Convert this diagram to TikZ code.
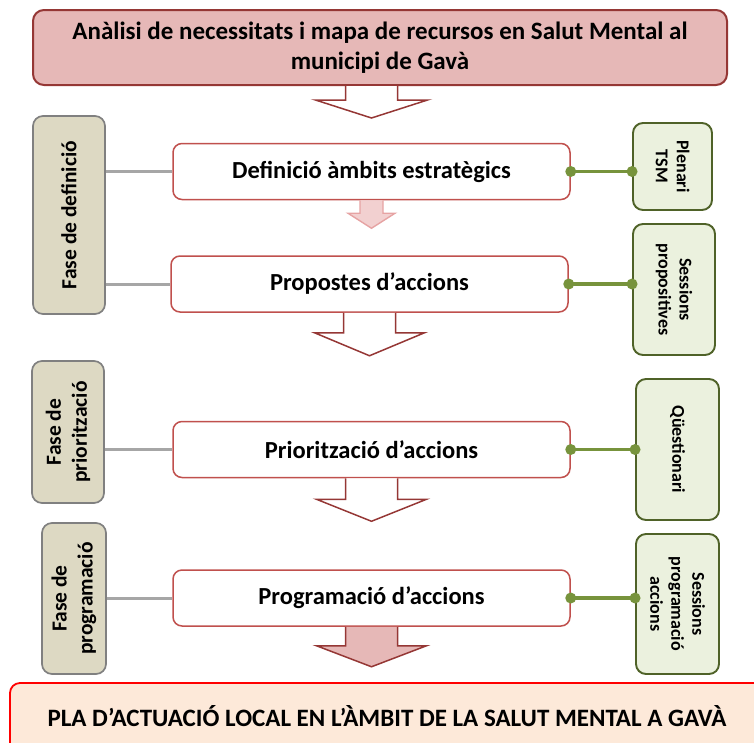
\documentclass[tikz,border=0pt]{standalone}
\usepackage{fontspec}
\setmainfont{Carlito}
\usetikzlibrary{calc}
\definecolor{topfill}{HTML}{E6B8B7}
\definecolor{topborder}{HTML}{953735}
\definecolor{boxred}{HTML}{C0504D}
\definecolor{greyfill}{HTML}{DDD9C3}
\definecolor{greyborder}{HTML}{808080}
\definecolor{greyline}{HTML}{A6A6A6}
\definecolor{greenfill}{HTML}{EBF1DE}
\definecolor{greenborder}{HTML}{4F6228}
\definecolor{greenline}{HTML}{77933C}
\definecolor{planfill}{HTML}{FDE9D9}
\definecolor{planborder}{HTML}{FF0000}
\definecolor{lightpinkfill}{HTML}{F2D0D0}
\definecolor{lightpinkborder}{HTML}{E6A3A3}
\newcommand\dnarrow[6]{%
  \draw[#1] ($(#2)+(-#3,0)$) -- ++(0,#5) -- ++(#3-#4,0) -- ++(#4,#6) -- ++(#4,-#6) -- ++(#3-#4,0) -- ++(0,-#5);}
\begin{document}
\begin{tikzpicture}[x=1pt,y=-1pt,
  topbox/.style={draw=topborder, fill=topfill, line width=2pt, rounded corners=11pt, align=center,
    minimum width=694, minimum height=75, font=\fontsize{25}{30}\selectfont\bfseries},
  mainbox/.style={draw=boxred, fill=white, line width=1.5pt, rounded corners=9pt,
    minimum width=397, minimum height=56, font=\fontsize{24.5}{30}\selectfont\bfseries},
  greybox/.style={draw=greyborder, fill=greyfill, line width=1.7pt, rounded corners=10pt},
  greenbox/.style={draw=greenborder, fill=greenfill, line width=1.9pt, rounded corners=10pt},
  sidetext/.style={align=center, font=\fontsize{21.5}{26}\selectfont\bfseries},
  greentext/.style={align=center, rotate=-90, font=\fontsize{18}{21}\selectfont\bfseries},
  greyconn/.style={draw=greyline, line width=3pt},
  greenconn/.style={draw=greenline, line width=3.2pt},
  gdot/.style={fill=greenline, draw=none},
  hollowarr/.style={draw=topborder, fill=white, line width=1.5pt, line join=miter},
  pinkarr/.style={draw=lightpinkborder, fill=lightpinkfill, line width=1.4pt},
  fullarr/.style={draw=topborder, fill=topfill, line width=1.5pt},
  planbox/.style={draw=planborder, fill=planfill, line width=1.8pt, rounded corners=10pt},
  plantext/.style={font=\fontsize{25}{30}\selectfont\bfseries}
]
\useasboundingbox (0,0) rectangle (754,742);
\clip (0,0) rectangle (754,742);

% top box
\node[topbox] (top) at (380,47.5) {Anàlisi de necessitats i mapa de recursos en Salut Mental al\\municipi de Gavà};

% main boxes
\node[mainbox] (def) at (371.5,171.5) {Definició àmbits estratègics};
\node[mainbox] (prop) at (369.5,284) {Propostes d’accions};
\node[mainbox] (prio) at (371.5,449.5) {Priorització d’accions};
\node[mainbox] (prog) at (371.5,598) {Programació d’accions};

% arrows
\dnarrow{hollowarr}{def.north |- top.south}{26}{56}{14}{18}
\dnarrow{pinkarr}{def.south}{11.5}{23.5}{13}{15}
\dnarrow{hollowarr}{prop.south}{26}{55}{20}{23}
\dnarrow{hollowarr}{prio.south}{26}{55}{21}{22}
\dnarrow{fullarr}{prog.south}{26}{55}{19}{21}

% plan box
\node[planbox, minimum width=754, minimum height=80] (plan) at (387,723) {};
\node[plantext] at (387,716) {PLA D’ACTUACIÓ LOCAL EN L’ÀMBIT DE LA SALUT MENTAL A GAVÀ};

% grey phase boxes
\node[greybox, minimum width=72, minimum height=198] (f1) at (69,215) {};
\node[sidetext, rotate=90] at (f1) {Fase de definició};
\node[greybox, minimum width=72, minimum height=142] (f2) at (68,432) {};
\node[sidetext, rotate=90] at (f2) {Fase de\\priorització};
\node[greybox, minimum width=64, minimum height=151] (f3) at (74,598.5) {};
\node[sidetext, rotate=90] at (f3) {Fase de\\programació};

\draw[greyconn] (f1.east |- def.west) -- (def.west);
\draw[greyconn] (f1.east |- prop.west) -- (prop.west);
\draw[greyconn] (f2.east |- prio.west) -- (prio.west);
\draw[greyconn] (f3.east |- prog.west) -- (prog.west);

% green boxes
\node[greenbox, minimum width=79, minimum height=87] (g1) at (672.5,166.5) {};
\node[greentext] at (g1) {Plenari\\TSM};
\node[greenbox, minimum width=82, minimum height=131] (g2) at (674,289.5) {};
\node[greentext] at (g2) {Sessions\\propositives};
\node[greenbox, minimum width=83, minimum height=141] (g3) at (677.5,449.5) {};
\node[greentext] at (g3) {Qüestionari};
\node[greenbox, minimum width=83, minimum height=140] (g4) at (677.5,604) {};
\node[greentext] at (g4) {Sessions\\programació\\accions};

\foreach \b/\g in {def/g1, prop/g2, prio/g3, prog/g4}{
  \draw[greenconn] (\b.east) -- (\g.west |- \b.east);
  \fill[gdot] (\b.east) circle (5.5);
  \fill[gdot] (\g.west |- \b.east) circle (5.5);
}
\end{tikzpicture}
\end{document}
